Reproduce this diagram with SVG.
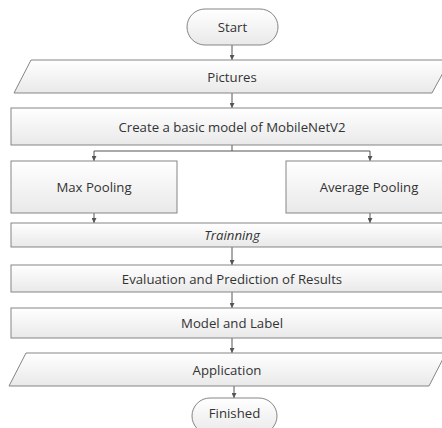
<svg xmlns="http://www.w3.org/2000/svg" width="442" height="428" viewBox="0 0 442 428">
<defs>
<linearGradient id="g" x1="0" y1="0" x2="0" y2="1">
<stop offset="0" stop-color="#ffffff"/>
<stop offset="1" stop-color="#e9e9e9"/>
</linearGradient>
<marker id="ah" viewBox="0 0 6 6" refX="6" refY="3" markerWidth="5" markerHeight="5" orient="auto" markerUnits="userSpaceOnUse">
<path d="M0,0 L6,3 L0,6 z" fill="#555"/>
</marker>
</defs>
<style>
.s{fill:url(#g);stroke:#858585;stroke-width:1}
.t{font-family:"Open Sans","Liberation Sans",sans-serif;font-size:13.2px;fill:#333;text-anchor:middle;dominant-baseline:central}
.c{fill:none;stroke:#555;stroke-width:1;marker-end:url(#ah)}
.l{fill:none;stroke:#555;stroke-width:1}
</style>
<rect width="442" height="428" fill="#fff"/>
<g id="connectors">
<line class="c" x1="232" y1="45" x2="232" y2="60"/>
<line class="c" x1="232" y1="93" x2="232" y2="108"/>
<polyline class="l" points="232,145 232,151"/>
<polyline class="c" points="232,151 94,151 94,161"/>
<polyline class="c" points="232,151 370,151 370,161"/>
<line class="c" x1="94" y1="213" x2="94" y2="223"/>
<line class="c" x1="370" y1="213" x2="370" y2="223"/>
<line class="c" x1="232" y1="247" x2="232" y2="265"/>
<line class="c" x1="232" y1="292" x2="232" y2="308"/>
<line class="c" x1="232" y1="338" x2="232" y2="353"/>
<line class="c" x1="234" y1="386" x2="234" y2="398"/>
</g>
<g id="start">
<rect class="s" x="187" y="9" width="91" height="36" rx="18"/>
<text class="t" x="232.5" y="27" font-size="12">Start</text>
</g>
<g id="pictures">
<polygon class="s" points="31,60 450,60 432,93 14,93"/>
<text class="t" x="232" y="77">Pictures</text>
</g>
<g id="create">
<rect class="s" x="11" y="108" width="445" height="37"/>
<text class="t" x="232" y="126.5">Create a basic model of MobileNetV2</text>
</g>
<g id="maxpool">
<rect class="s" x="11" y="161" width="166" height="52"/>
<text class="t" x="94" y="187">Max Pooling</text>
</g>
<g id="avgpool">
<rect class="s" x="286" y="161" width="170" height="52"/>
<text class="t" x="369" y="187">Average Pooling</text>
</g>
<g id="training">
<rect class="s" x="11" y="223" width="445" height="24"/>
<text class="t" x="232" y="235" font-style="italic">Trainning</text>
</g>
<g id="evaluation">
<rect class="s" x="11" y="265" width="445" height="27"/>
<text class="t" x="232" y="278.5">Evaluation and Prediction of Results</text>
</g>
<g id="model">
<rect class="s" x="11" y="308" width="445" height="30"/>
<text class="t" x="232" y="323">Model and Label</text>
</g>
<g id="application">
<polygon class="s" points="26,353 446,353 429,386 9,386"/>
<text class="t" x="227" y="369.5">Application</text>
</g>
<g id="finished">
<rect class="s" x="192" y="398" width="85" height="36" rx="18"/>
<text class="t" x="234.5" y="413">Finished</text>
</g>
</svg>
